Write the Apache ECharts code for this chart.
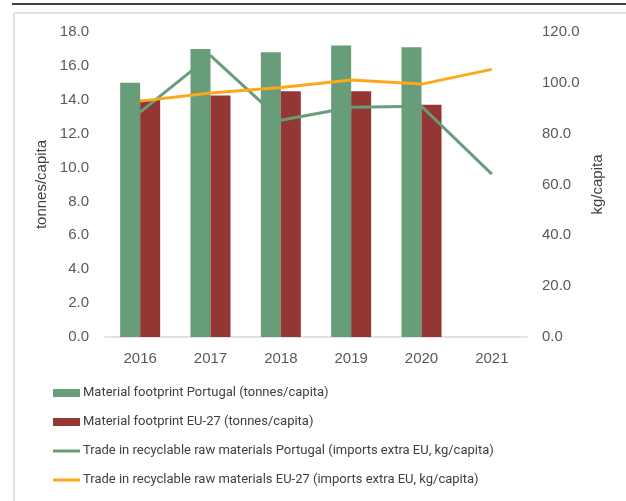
<!DOCTYPE html>
<html>
<head>
<meta charset="utf-8">
<script src="https://cdn.jsdelivr.net/npm/echarts@6/dist/echarts.min.js"></script>
<style>
  html, body { margin: 0; padding: 0; background: #fff; }
  #chart { width: 626px; height: 501px; }
</style>
</head>
<body>
<div id="chart"></div>
<script>
// data
const years = ['2016', '2017', '2018', '2019', '2020', '2021'];
const footprintPT = [15.0, 17.0, 16.8, 17.2, 17.1, null];
const footprintEU = [14.0, 14.25, 14.5, 14.5, 13.7, null];
const tradePT = [88.5, 110.7, 85.3, 90.4, 90.8, 64.1];
const tradeEU = [92.8, 96.0, 98.2, 101.1, 99.5, 105.3];

const names = [
  'Material footprint Portugal (tonnes/capita)',
  'Material footprint EU-27 (tonnes/capita)',
  'Trade in recyclable raw materials Portugal (imports extra EU, kg/capita)',
  'Trade in recyclable raw materials EU-27 (imports extra EU, kg/capita)',
];

const green = '#679d79';
const red = '#943634';
const orange = '#fca81a';
const labelColor = '#595959';
const font = '"Liberation Sans", Arial, sans-serif';
// thin line icon for the legend (tiny corner dots keep the box 27x8)
const lineIcon = 'path://M0,0h0.01v0.01h-0.01z M0,2.6h27v2.8h-27z M26.99,7.99h0.01v0.01h-0.01z';

const chart = echarts.init(document.getElementById('chart'));

const option = {
  animation: false,
  textStyle: { fontFamily: font },
  graphic: [
    { type: 'line', shape: { x1: 12, y1: 4, x2: 626, y2: 4 }, style: { stroke: '#000', lineWidth: 1.5 } },
    { type: 'line', shape: { x1: 14, y1: 13, x2: 626, y2: 13 }, style: { stroke: '#d9d9d9', lineWidth: 1.5 } },
    { type: 'line', shape: { x1: 14, y1: 13, x2: 14, y2: 501 }, style: { stroke: '#d9d9d9', lineWidth: 1.5 } },
  ],
  grid: { left: 105, right: 99, top: 32, bottom: 164 },
  legend: {
    orient: 'vertical',
    left: 48,
    top: 381,
    itemGap: 15,
    itemWidth: 27,
    itemHeight: 8,
    textStyle: { color: '#404040', fontSize: 13, lineHeight: 14, fontFamily: 'Roboto, sans-serif', padding: [0, 0, 0, -2] },
    data: [
      { name: names[0], icon: 'rect' },
      { name: names[1], icon: 'rect' },
      { name: names[2], icon: lineIcon },
      { name: names[3], icon: lineIcon },
    ],
  },
  xAxis: {
    type: 'category',
    data: years,
    axisLine: { lineStyle: { color: '#d9d9d9', width: 1.5 } },
    axisTick: { show: false },
    axisLabel: { color: labelColor, fontSize: 15, margin: 14 },
  },
  yAxis: [
    {
      type: 'value',
      min: 0,
      max: 18,
      interval: 2,
      name: 'tonnes/capita',
      nameLocation: 'middle',
      nameRotate: 90,
      nameGap: 50,
      nameTextStyle: { color: '#404040', fontSize: 15 },
      axisLine: { show: false },
      axisTick: { show: false },
      splitLine: { show: false },
      axisLabel: { color: labelColor, fontSize: 15, margin: 16, formatter: (v) => v.toFixed(1) },
    },
    {
      type: 'value',
      min: 0,
      max: 120,
      interval: 20,
      name: 'kg/capita',
      nameLocation: 'middle',
      nameRotate: 90,
      nameGap: 63,
      nameTextStyle: { color: '#404040', fontSize: 15 },
      axisLine: { show: false },
      axisTick: { show: false },
      splitLine: { show: false },
      axisLabel: { color: labelColor, fontSize: 15, margin: 15, formatter: (v) => v.toFixed(1) },
    },
  ],
  series: [
    {
      name: names[0],
      type: 'bar',
      data: footprintPT,
      barWidth: 20,
      barGap: '0%',
      itemStyle: { color: green },
    },
    {
      name: names[1],
      type: 'bar',
      data: footprintEU,
      barWidth: 20,
      itemStyle: { color: red },
    },
    {
      name: names[2],
      type: 'line',
      yAxisIndex: 1,
      data: tradePT,
      symbol: 'none',
      lineStyle: { color: green, width: 3 },
      itemStyle: { color: green },
      z: 3,
    },
    {
      name: names[3],
      type: 'line',
      yAxisIndex: 1,
      data: tradeEU,
      symbol: 'none',
      lineStyle: { color: orange, width: 3 },
      itemStyle: { color: orange },
      z: 4,
    },
  ],
};

chart.setOption(option);
</script>
</body>
</html>
